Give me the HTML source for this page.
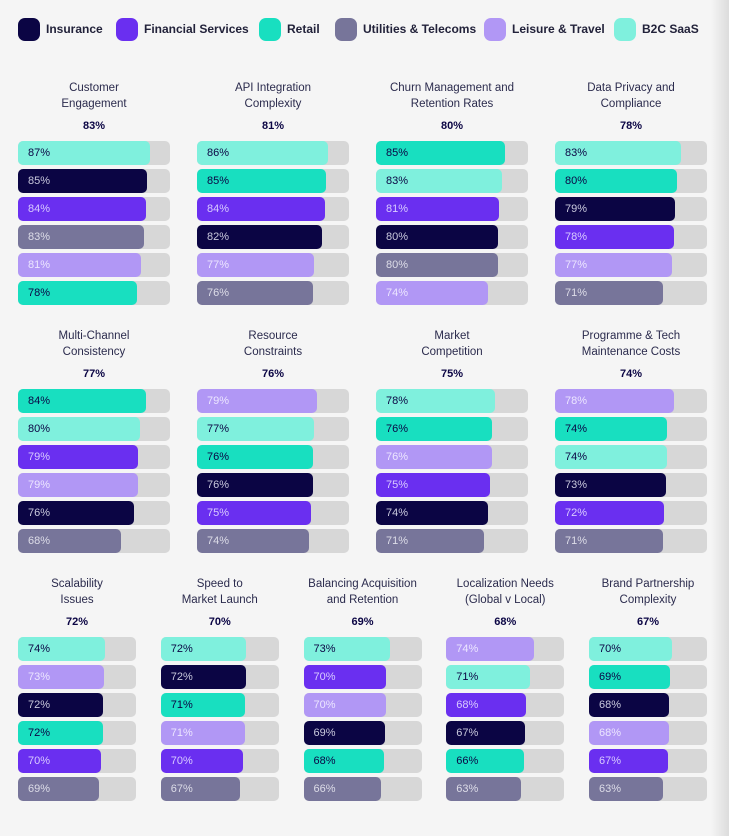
<!DOCTYPE html>
<html><head><meta charset="utf-8">
<style>
body{margin:0;width:729px;height:836px;background:#f5f5f5;position:relative;overflow:hidden;font-family:"Liberation Sans",sans-serif;}
.abs{position:absolute;}
.sw{position:absolute;width:22px;height:23px;border-radius:7px;}
.lt{position:absolute;font-size:12px;font-weight:bold;color:#22223a;top:22px;}
.title{position:absolute;text-align:center;font-size:11.5px;line-height:16px;color:#2b2b4d;}
.total{position:absolute;text-align:center;font-size:11px;font-weight:bold;color:#0b0544;}
.track{position:absolute;height:24px;background:#d7d7d7;border-radius:5px;}
.bar{position:absolute;height:24px;border-radius:5px;font-size:11px;line-height:24px;box-sizing:border-box;padding-left:10px;}
#shadow{position:absolute;left:711px;top:0;width:18px;height:836px;background:linear-gradient(to right,#f5f5f5,#dcdcdc);}
</style></head>
<body>
<div id="shadow"></div>
<div id="legend"></div>
<div id="charts"></div>
<script>
const seriesNames=["Insurance","Financial Services","Retail","Utilities & Telecoms","Leisure & Travel","B2C SaaS"];
const seriesColors=["#0b0544","#6a2ff0","#18dfc0","#77759a","#b197f5","#7ff0dd"];
const textColors=["#c9c9dd","#d9ccff","#0b0544","#dddde8","#ece6ff","#0b0544"];
const titles=[["Customer","Engagement"],["API  Integration","Complexity"],["Churn Management and","Retention Rates"],["Data Privacy and","Compliance"],["Multi-Channel","Consistency"],["Resource","Constraints"],["Market","Competition"],["Programme & Tech","Maintenance Costs"],["Scalability","Issues"],["Speed to","Market Launch"],["Balancing Acquisition","and Retention"],["Localization Needs","(Global v Local)"],["Brand Partnership","Complexity"]];
const totals=[83,81,80,78,77,76,75,74,72,70,69,68,67];
// series index order per panel (0 Ins,1 Fin,2 Retail,3 Util,4 Leis,5 B2C)
const order=[[5,0,1,3,4,2],[5,2,1,0,4,3],[2,5,1,0,3,4],[5,2,0,1,4,3],[2,5,1,4,0,3],[4,5,2,0,1,3],[5,2,4,1,0,3],[4,2,5,0,1,3],[5,4,0,2,1,3],[5,0,2,4,1,3],[5,1,4,0,2,3],[4,5,1,0,2,3],[5,2,0,4,1,3]];
const values=[[87,85,84,83,81,78],[86,85,84,82,77,76],[85,83,81,80,80,74],[83,80,79,78,77,71],[84,80,79,79,76,68],[79,77,76,76,75,74],[78,76,76,75,74,71],[78,74,74,73,72,71],[74,73,72,72,70,69],[72,72,71,71,70,67],[73,70,70,69,68,66],[74,71,68,67,66,63],[70,69,68,68,67,63]];

const legendX=[18,116,259,335,484,614];
const lg=document.getElementById('legend');
seriesNames.forEach((n,i)=>{
  const s=document.createElement('div');s.className='sw';
  
  
  s.style.left=legendX[i]+'px';s.style.top=18+'px';s.style.background=seriesColors[i];lg.appendChild(s);
  const t=document.createElement('div');t.className='lt';
  
  
  t.style.left=(legendX[i]+28)+'px';t.textContent=n;lg.appendChild(t);
});

const ch=document.getElementById('charts');
function layout(p){
  if(p<4) return {x:18+p*179,w:152,top:80};
  if(p<8) return {x:18+(p-4)*179,w:152,top:328};
  return {x:18+(p-8)*142.75,w:118,top:576};
}
function xScale(v,w){return v/100*w;}
titles.forEach((tt,p)=>{
  const L=layout(p);
  const g=document.createElement('div');
  
  
  ch.appendChild(g);
  const t=document.createElement('div');t.className='title';
  
  
  t.style.left=(L.x-20)+'px';t.style.width=(L.w+40)+'px';t.style.top=L.top+'px';
  t.innerHTML=tt[0]+'<br>'+tt[1];g.appendChild(t);
  const to=document.createElement('div');to.className='total';
  
  
  to.style.left=L.x+'px';to.style.width=L.w+'px';to.style.top=(L.top+40)+'px';
  to.textContent=totals[p]+'%';g.appendChild(to);
  values[p].forEach((v,j)=>{
    const y=L.top+61+j*28;
    const tr=document.createElement('div');tr.className='track';
    
    
    tr.style.left=L.x+'px';tr.style.top=y+'px';tr.style.width=L.w+'px';g.appendChild(tr);
    const s=order[p][j];
    const b=document.createElement('div');b.className='bar';
    
    
    b.style.left=L.x+'px';b.style.top=y+'px';b.style.width=xScale(v,L.w)+'px';
    b.style.background=seriesColors[s];b.style.color=textColors[s];
    b.textContent=v+'%';g.appendChild(b);
  });
});
</script>
</body></html>
